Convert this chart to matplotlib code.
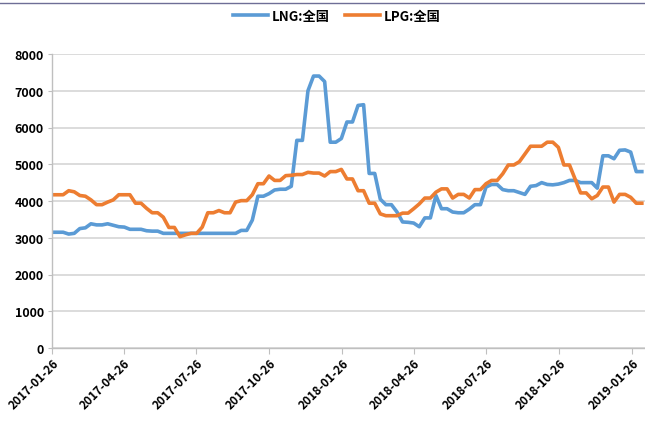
import numpy as np
import pandas as pd
import matplotlib
matplotlib.use('Agg')
import matplotlib.pyplot as plt
import matplotlib.dates as mdates
from matplotlib.lines import Line2D

plt.rcParams['font.family'] = ['Noto Sans CJK SC', 'DejaVu Sans']

# ── Data (weekly, from 2017-01-26) ─────────────────────────────────────────────
start_date = "2017-01-26"
lng = [3150, 3150, 3150, 3100, 3120, 3250, 3270, 3380, 3350, 3350,
       3380, 3340, 3300, 3290, 3230, 3230, 3230, 3190, 3180, 3180,
       3120, 3120, 3120, 3120, 3120, 3120, 3120, 3120, 3120, 3120,
       3120, 3120, 3120, 3120, 3200, 3200, 3480, 4130, 4130, 4200,
       4300, 4320, 4320, 4400, 5650, 5650, 7000, 7400, 7400, 7250,
       5600, 5600, 5700, 6150, 6150, 6600, 6620, 4750, 4750, 4050,
       3900, 3900, 3700, 3430, 3420, 3400, 3300, 3540, 3540, 4150,
       3790, 3790, 3700, 3680, 3680, 3780, 3900, 3900, 4380, 4450,
       4450, 4310, 4280, 4280, 4230, 4180, 4400, 4420, 4500, 4450,
       4440, 4460, 4500, 4560, 4560, 4500, 4500, 4500, 4350, 5230,
       5230, 5150, 5380, 5390, 5330, 4800, 4800]
lpg = [4170, 4170, 4170, 4280, 4250, 4150, 4130, 4030, 3900, 3900,
       3970, 4030, 4170, 4170, 4170, 3940, 3940, 3800, 3680, 3680,
       3560, 3280, 3280, 3030, 3080, 3120, 3120, 3290, 3680, 3680,
       3740, 3680, 3680, 3970, 4010, 4010, 4170, 4470, 4470, 4680,
       4560, 4560, 4690, 4700, 4720, 4720, 4780, 4760, 4760, 4680,
       4800, 4800, 4860, 4600, 4600, 4280, 4280, 3940, 3940, 3650,
       3600, 3600, 3600, 3670, 3670, 3790, 3920, 4080, 4080, 4240,
       4330, 4330, 4080, 4180, 4180, 4080, 4310, 4310, 4470, 4560,
       4560, 4740, 4980, 4980, 5070, 5280, 5490, 5490, 5490, 5600,
       5600, 5460, 4980, 4980, 4600, 4220, 4220, 4060, 4150, 4380,
       4380, 3970, 4180, 4180, 4100, 3940, 3940]
labels = ["LNG:全国", "LPG:全国"]
tick_dates = ["2017-01-26", "2017-04-26", "2017-07-26", "2017-10-26", "2018-01-26",
              "2018-04-26", "2018-07-26", "2018-10-26", "2019-01-26"]
y_ticks = [0, 1000, 2000, 3000, 4000, 5000, 6000, 7000, 8000]

dates = pd.date_range(start_date, periods=len(lng), freq='7D')

fig = plt.figure(figsize=(6.45, 4.31), dpi=100)
ax = fig.add_axes([52 / 645, 1 - 349 / 431, 1 - 52 / 645, (349 - 55) / 431])

ax.plot(dates, lng, color='#5b9bd5', lw=2.6, label=labels[0], solid_joinstyle='round')
ax.plot(dates, lpg, color='#ed7d31', lw=2.6, label=labels[1], solid_joinstyle='round')

ax.set_ylim(0, 8000)
ax.set_yticks(y_ticks)
ax.set_xlim(pd.Timestamp(start_date), pd.Timestamp("2019-02-11"))
ax.set_xticks(pd.to_datetime(tick_dates))
ax.xaxis.set_major_formatter(mdates.DateFormatter('%Y-%m-%d'))

ax.grid(axis='y', color='#d9d9d9', lw=1.3)
ax.set_axisbelow(True)
for side in ['top', 'right']:
    ax.spines[side].set_visible(False)
for side in ['left', 'bottom']:
    ax.spines[side].set_color('#bfbfbf')
    ax.spines[side].set_linewidth(1.0)

ax.tick_params(axis='y', length=3, color='#bfbfbf', pad=3, labelsize=9)
ax.tick_params(axis='x', length=4, color='#bfbfbf', pad=2, labelsize=8.5)
for t in ax.get_yticklabels():
    t.set_fontweight('bold')
for t in ax.get_xticklabels():
    t.set_rotation(45)
    t.set_ha('right')
    t.set_rotation_mode('anchor')
    t.set_fontweight('bold')

fig.legend(loc='center', bbox_to_anchor=(337 / 645, 1 - 17 / 431), ncol=2, frameon=False,
           prop={'weight': 'bold', 'size': 9.5}, handlelength=2.6, columnspacing=1.2,
           handletextpad=0.3)

fig.add_artist(Line2D([0, 1], [1 - 4 / 431, 1 - 4 / 431], color='#6e6e96', lw=1.0))

fig.savefig('out.png', dpi=100)
